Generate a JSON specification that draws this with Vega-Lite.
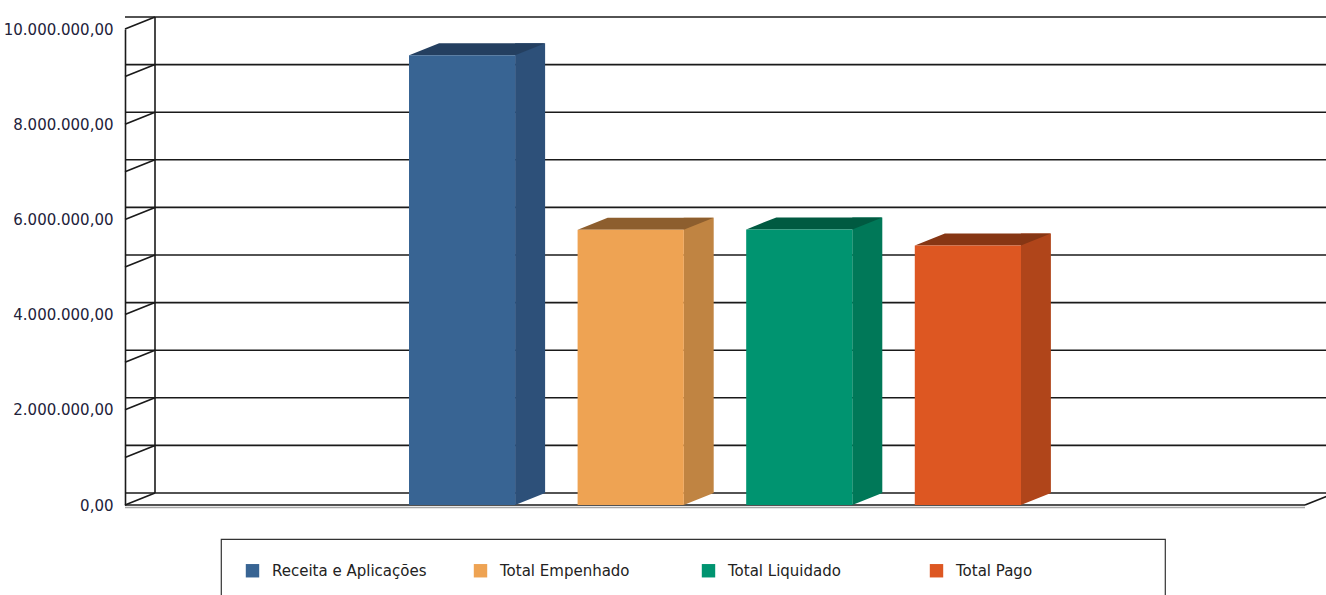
{
  "$schema": "https://vega.github.io/schema/vega-lite/v6.json",
  "width": 1180,
  "height": 476,
  "autosize": {"type": "none"},
  "padding": {"left": 125, "top": 29, "right": 21, "bottom": 90},
  "background": "white",
  "datasets": {
    "barras": [
      {"serie": "Receita e Aplicações", "valor": 9450000},
      {"serie": "Total Empenhado", "valor": 5780000},
      {"serie": "Total Liquidado", "valor": 5790000},
      {"serie": "Total Pago", "valor": 5450000}
    ],
    "grade": [
      {"v": 0}, {"v": 1000000}, {"v": 2000000}, {"v": 3000000}, {"v": 4000000},
      {"v": 5000000}, {"v": 6000000}, {"v": 7000000}, {"v": 8000000}, {"v": 9000000}, {"v": 10000000}
    ]
  },
  "resolve": {"scale": {"fill": "independent"}},
  "layer": [
    {
      "data": {"name": "grade"},
      "mark": {"type": "rule", "color": "#1a1a1a", "strokeWidth": 1.6, "xOffset": 30, "x2Offset": 30, "yOffset": -12},
      "encoding": {
        "y": {"field": "v", "type": "quantitative", "title": null, "scale": {"domain": [0, 10000000], "nice": false}}
      }
    },
    {
      "data": {"name": "grade"},
      "mark": {"type": "rule", "color": "#1a1a1a", "strokeWidth": 1.6, "y2Offset": -12},
      "encoding": {
        "x": {"value": 0},
        "x2": {"value": 30},
        "y": {"field": "v", "type": "quantitative", "title": null, "scale": {"domain": [0, 10000000], "nice": false}},
        "y2": {"field": "v"}
      }
    },
    {
      "data": {"values": [{}]},
      "mark": {"type": "rule", "color": "#1a1a1a", "strokeWidth": 1.6, "yOffset": -12, "y2Offset": -12},
      "encoding": {
        "x": {"value": 30},
        "y": {"datum": 0, "type": "quantitative", "title": null, "scale": {"domain": [0, 10000000], "nice": false}},
        "y2": {"datum": 10000000}
      }
    },
    {
      "data": {"values": [{}]},
      "mark": {"type": "rule", "color": "#a8a8a8", "strokeWidth": 1.5, "yOffset": 2.5},
      "encoding": {
        "y": {"datum": 0, "type": "quantitative", "title": null, "scale": {"domain": [0, 10000000], "nice": false}}
      }
    },
    {
      "data": {"values": [{}]},
      "mark": {"type": "rule", "color": "#1a1a1a", "strokeWidth": 1.6},
      "encoding": {
        "y": {"datum": 0, "type": "quantitative", "title": null, "scale": {"domain": [0, 10000000], "nice": false}}
      }
    },
    {
      "data": {"values": [{}]},
      "mark": {"type": "rule", "color": "#1a1a1a", "strokeWidth": 1.6, "y2Offset": -12},
      "encoding": {
        "x": {"value": 1180},
        "x2": {"value": 1210},
        "y": {"datum": 0, "type": "quantitative", "title": null, "scale": {"domain": [0, 10000000], "nice": false}},
        "y2": {"datum": 0}
      }
    },
    {
      "data": {"name": "barras"},
      "mark": {"type": "bar", "width": 30, "xOffset": 68, "yOffset": -12, "y2Offset": -12},
      "encoding": {
        "x": {"field": "serie", "type": "nominal", "sort": null, "scale": {"range": [284, 896], "paddingInner": 0.37, "paddingOuter": 0}, "axis": null},
        "y": {"field": "valor", "type": "quantitative", "title": null, "scale": {"domain": [0, 10000000], "nice": false}},
        "fill": {"field": "serie", "type": "nominal", "legend": null,
          "scale": {"domain": ["Receita e Aplicações", "Total Empenhado", "Total Liquidado", "Total Pago"], "range": ["#2d5079", "#c08442", "#007858", "#b0451a"]}}
      }
    },
    {
      "data": {"name": "barras"},
      "mark": {"type": "point", "filled": true, "opacity": 1, "size": 4, "strokeWidth": 0, "shape": "M53 0 L53 -12 L83 -12 Z"},
      "encoding": {
        "x": {"field": "serie", "type": "nominal", "sort": null, "axis": null},
        "y": {"datum": 0, "type": "quantitative", "title": null, "scale": {"domain": [0, 10000000], "nice": false}},
        "fill": {"field": "serie", "type": "nominal", "legend": null,
          "scale": {"domain": ["Receita e Aplicações", "Total Empenhado", "Total Liquidado", "Total Pago"], "range": ["#2d5079", "#c08442", "#007858", "#b0451a"]}}
      }
    },
    {
      "data": {"name": "barras"},
      "mark": {"type": "point", "filled": true, "opacity": 1, "size": 4, "strokeWidth": 0, "shape": "M-53 0 L53 0 L83 -12 L-23 -12 Z"},
      "encoding": {
        "x": {"field": "serie", "type": "nominal", "sort": null, "axis": null},
        "y": {"field": "valor", "type": "quantitative", "title": null, "scale": {"domain": [0, 10000000], "nice": false}},
        "fill": {"field": "serie", "type": "nominal", "legend": null,
          "scale": {"domain": ["Receita e Aplicações", "Total Empenhado", "Total Liquidado", "Total Pago"], "range": ["#243f60", "#8d5e2e", "#005a41", "#863614"]}}
      }
    },
    {
      "data": {"name": "barras"},
      "mark": {"type": "bar"},
      "encoding": {
        "x": {"field": "serie", "type": "nominal", "sort": null, "axis": null},
        "y": {"field": "valor", "type": "quantitative", "title": null, "scale": {"domain": [0, 10000000], "nice": false}},
        "color": {"field": "serie", "type": "nominal",
          "scale": {"domain": ["Receita e Aplicações", "Total Empenhado", "Total Liquidado", "Total Pago"], "range": ["#386493", "#eea353", "#009470", "#dd5722"]},
          "legend": {"title": "\u00a0", "titleOrient": "right", "titleFontSize": 4, "titlePadding": 109, "orient": "none", "legendX": 96, "legendY": 510,
            "direction": "horizontal", "columns": 4, "gridAlign": "all", "columnPadding": 46,
            "symbolType": "square", "symbolSize": 180, "symbolStrokeWidth": 0, "symbolOpacity": 1,
            "labelFont": "DejaVu Sans", "labelFontSize": 15, "labelColor": "#222222", "labelOffset": 12, "labelLimit": 400,
            "padding": 24, "strokeColor": "#333333", "fillColor": "#ffffff", "cornerRadius": 0}}
      }
    }
  ],
  "config": {
    "view": {"stroke": null},
    "font": "DejaVu Sans",
    "locale": {"number": {"decimal": ",", "thousands": ".", "grouping": [3], "currency": ["R$", ""]}},
    "legend": {"strokeWidth": 1.2},
    "axisX": {"disable": true},
    "axisY": {"tickCount": 5, "format": ",.2f",
      "ticks": false, "grid": false, "domain": true, "domainColor": "#1a1a1a", "domainWidth": 1.6,
      "labelFont": "DejaVu Sans", "labelFontSize": 15, "labelColor": "#22223a", "labelPadding": 12,
      "labelFlush": false, "labelOverlap": false, "title": null}
  }
}
